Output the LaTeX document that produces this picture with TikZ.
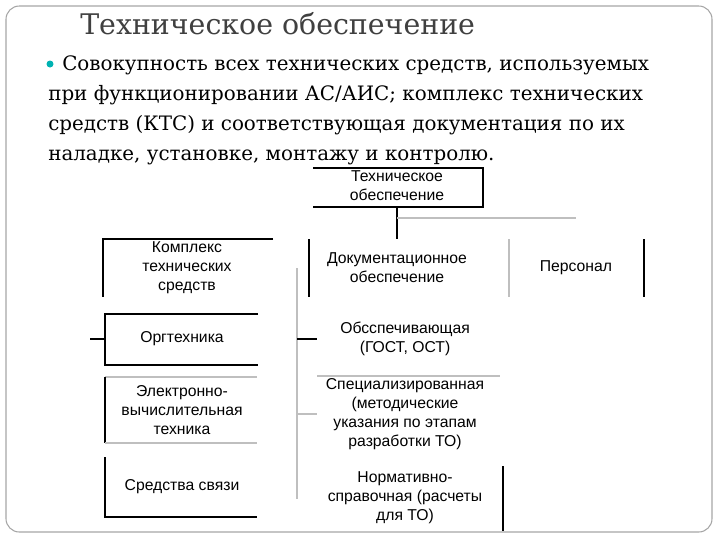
\documentclass[tikz,border=0pt]{standalone}
\usepackage{fontspec}
\setmainfont{DejaVu Serif}
\newfontfamily\dsans{Liberation Sans}
\begin{document}
\begin{tikzpicture}[x=0.75pt,y=-0.75pt,
  ln/.style={black,line width=0.8pt},
  gl/.style={gray!50,line width=0.8pt},
  dt/.style={font=\dsans\fontsize{11.8}{14.3}\selectfont,align=center,inner sep=0pt},
  bt/.style={font=\fontsize{14.9}{18}\selectfont,anchor=base west,inner sep=0pt}]
\useasboundingbox (0,0) rectangle (720,540);
\draw[gray!70,line width=0.8pt,rounded corners=10pt] (6,6) rectangle (712,532);
\node[font=\fontsize{21.3}{24}\selectfont,text=black!75,anchor=base west,inner sep=0pt] (title) at (80,34) {Техническое обеспечение};
\fill[teal!60!cyan] (50,64) circle (3.5);
\node[bt] (l1) at (62,70) {Совокупность всех технических средств, используемых};
\node[bt] (l2) at (48,100) {при функционировании АС/АИС; комплекс технических};
\node[bt] (l3) at (48,130) {средств (КТС) и соответствующая документация по их};
\node[bt] (l4) at (48,160) {наладке, установке, монтажу и контролю.};
% top
\draw[ln] (313,168) -- (483,168) -- (483,207) -- (313,207);
\node[dt] (te) at (397,186) {Техническое\\обеспечение};
\coordinate (tb) at (397,207);
\coordinate (tj) at (397,239);
\draw[ln] (tb) -- (tj);
\draw[gl] (397,218) -- (576,218);
% KTS
\draw[ln] (273,239) -- (103,239) -- (103,297);
\node[dt] (kts) at (187,268) {Комплекс\\технических\\средств};
\node[dt] (org) at (182,339) {Оргтехника};
\draw[ln] (258,314) -- (105,314) -- (105,365) -- (258,365);
\draw[ln] (90,339) -- (105,339);
\node[dt] (evt) at (182,410) {Электронно-\\вычислительная\\техника};
\draw[gl] (257,377) -- (105,377);
\draw[ln] (105,377) -- (105,443);
\draw[gl] (105,443) -- (257,443);
\node[dt] (svz) at (182,487) {Средства связи};
\draw[ln] (105,457) -- (105,517) -- (257,517);
% docs
\draw[ln] (309,239) -- (309,297);
\node[dt] (doc) at (397,268) {Документационное\\обеспечение};
\draw[gl] (509,239) -- (509,297);
\node[dt] (per) at (576,268) {Персонал};
\draw[ln] (644,239) -- (644,297);
\draw[gl] (297,268) -- (297,499);
\draw[ln] (297,339) -- (317,339);
\node[dt] (obs) at (405,339) {Обсспечивающая\\(ГОСТ, ОСТ)};
\draw[gl] (317,376) -- (500,376);
\node[dt] (spec) at (405,414) {Специализированная\\(методические\\указания по этапам\\разработки ТО)};
\draw[gl] (297,414) -- (317,414);
\node[dt] (norm) at (405,498) {Нормативно-\\справочная (расчеты\\для ТО)};
\draw[ln] (503,466) -- (503,531);
\end{tikzpicture}
\end{document}
